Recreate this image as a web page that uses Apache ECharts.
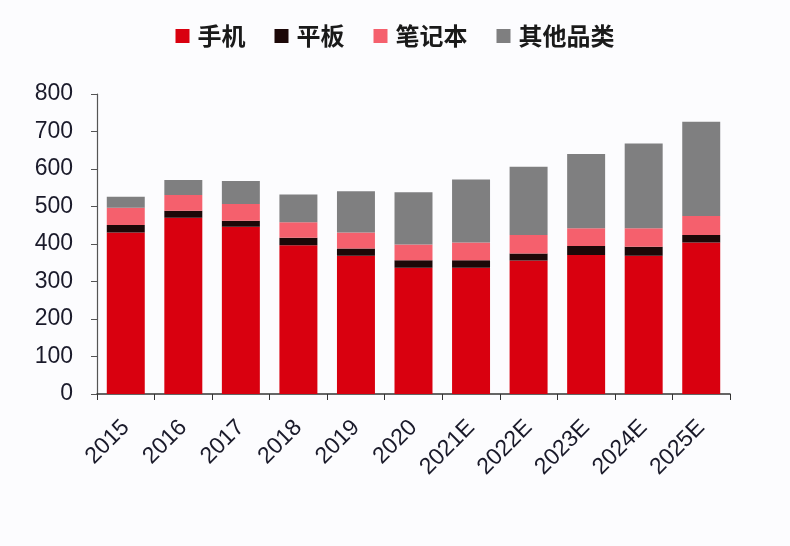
<!DOCTYPE html>
<html><head><meta charset="utf-8">
<script src="https://cdn.jsdelivr.net/npm/echarts@6/dist/echarts.min.js"></script>
<style>html,body{margin:0;padding:0;background:#fcfcfe;}#c{width:790px;height:546px;}</style>
</head><body><div id="c"></div>
<script>
const categories = ['2015','2016','2017','2018','2019','2020','2021E','2022E','2023E','2024E','2025E'];
const phone  = [431,470,446,397,369,337,337,356,371,369,404];
const tablet = [20,19,16,20,19,20,20,19,24,24,20];
const laptop = [46,42,45,41,43,42,47,49,47,49,51];
const others = [29,40,61,74,110,139,168,182,198,226,251];
const yTicks = [0,100,200,300,400,500,600,700,800];

const chart = echarts.init(document.getElementById('c'), null, {renderer:'canvas'});
const font = '"Liberation Sans", Arial, "Noto Sans CJK SC", sans-serif';
function s(name, data, color){
  return {name, type:'bar', stack:'total', data, barWidth:'66%', itemStyle:{color}};
}
chart.setOption({
  backgroundColor:'#fcfcfe',
  animation:false,
  textStyle:{fontFamily:font},
  legend:{
    top:19, left:'center', itemWidth:14, itemHeight:14, itemGap:29,
    icon:'rect',
    textStyle:{fontSize:24, color:'#1a1a1a', fontFamily:'"Noto Sans CJK SC", sans-serif', fontWeight:'bold', padding:[0,0,0,3]},
    data:['手机','平板','笔记本','其他品类']
  },
  grid:{left:97, right:60, top:94, bottom:152, containLabel:false},
  xAxis:{
    type:'category', data:categories,
    axisLine:{lineStyle:{color:'#333', width:1.5}},
    axisTick:{show:true, length:6, lineStyle:{color:'#333'}},
    axisLabel:{rotate:45, fontSize:23, color:'#1a1a2a', margin:30, fontFamily:font}
  },
  yAxis:{
    type:'value', min:yTicks[0], max:yTicks[yTicks.length-1], interval:100,
    splitLine:{show:false},
    axisLine:{show:true, lineStyle:{color:'#555', width:1.2}},
    axisTick:{show:true, length:6, lineStyle:{color:'#555'}},
    axisLabel:{fontSize:23, color:'#1a1a2a', margin:24, fontFamily:font}
  },
  series:[
    s('手机', phone, '#d9000f'),
    s('平板', tablet, '#1c0808'),
    s('笔记本', laptop, '#f5606d'),
    s('其他品类', others, '#7f7f80')
  ]
});
</script></body></html>
